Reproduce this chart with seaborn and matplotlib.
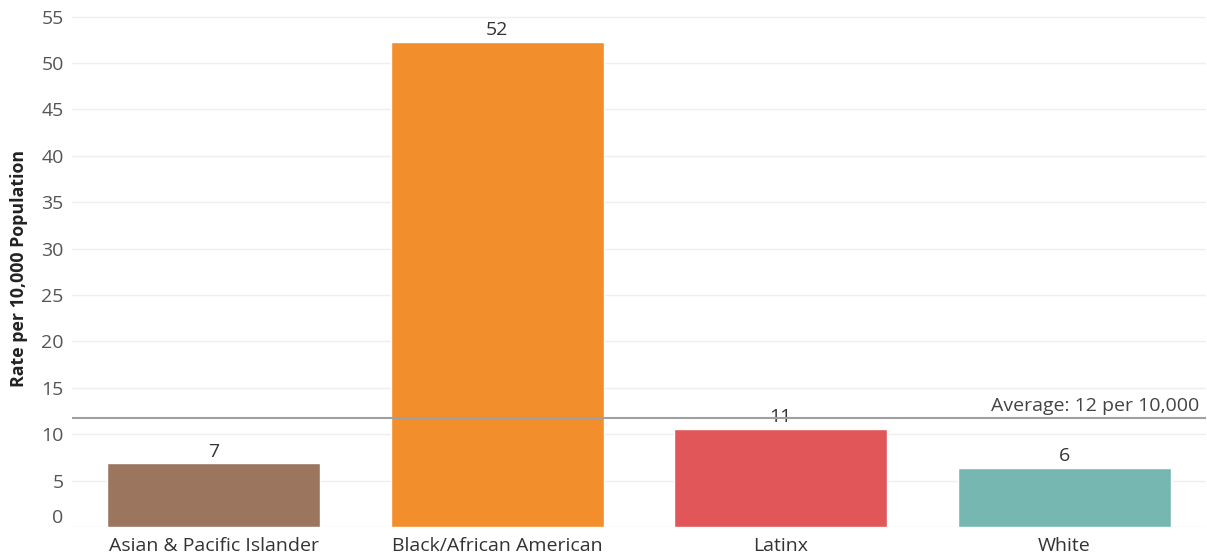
import pandas as pd
import matplotlib
matplotlib.use('Agg')
import matplotlib.pyplot as plt
import seaborn as sns

# значения
groups = ['Asian & Pacific Islander', 'Black/African American', 'Latinx', 'White']
rates = [6.85, 52.3, 10.6, 6.4]
rate_labels = ['7', '52', '11', '6']
bar_colors = ['#9C755F', '#F28E2B', '#E15759', '#76B7B2']
average = 11.8
average_label = 'Average: 12 per 10,000'
y_ticks = [0, 5, 10, 15, 20, 25, 30, 35, 40, 45, 50, 55]

df = pd.DataFrame({'group': groups, 'rate': rates})

sns.set_style('white')
plt.rcParams['font.family'] = ['Open Sans', 'DejaVu Sans']

fig = plt.figure(figsize=(12.07, 5.54), dpi=100)
ax = fig.add_axes([72 / 1207, 27 / 554, 1134 / 1207, 527 / 554])

sns.barplot(data=df, x='group', y='rate', hue='group', palette=bar_colors,
            width=0.75, legend=False, ax=ax, saturation=1)

ax.set_xlim(-0.5, 3.5)
ax.set_ylim(0, 56.8)
ax.set_yticks(y_ticks)
ax.set_yticklabels([str(t) for t in y_ticks])
ax.grid(axis='y', color='#efefef', linewidth=1)
ax.set_axisbelow(True)
for s in ax.spines.values():
    s.set_visible(False)

ax.tick_params(axis='y', length=0, labelsize=14, labelcolor='#555555', pad=6)
ax.tick_params(axis='x', length=0, labelsize=14, labelcolor='#333333', pad=7)
# нижняя метка "0" приподнята, как в оригинале
ax.get_yticklabels()[0].set_va('bottom')
ax.set_xlabel('')
ax.set_ylabel('Rate per 10,000 Population', fontsize=12.8, fontweight='bold',
              color='#222222')
ax.yaxis.set_label_coords(-44 / 1134, 0.49)

# подписи над столбцами
for i, (v, lab) in enumerate(zip(rates, rate_labels)):
    ax.annotate(lab, (i, v), xytext=(0, 2), textcoords='offset points',
                ha='center', va='bottom', fontsize=14, color='#333333')

# средняя линия
ax.axhline(average, color='#a0a0a0', linewidth=1.5, zorder=5)
ax.annotate(average_label, (3.5, average), xytext=(-5, 2), textcoords='offset points',
            ha='right', va='bottom', fontsize=14, color='#444444')

fig.savefig('out.png', dpi=100)
